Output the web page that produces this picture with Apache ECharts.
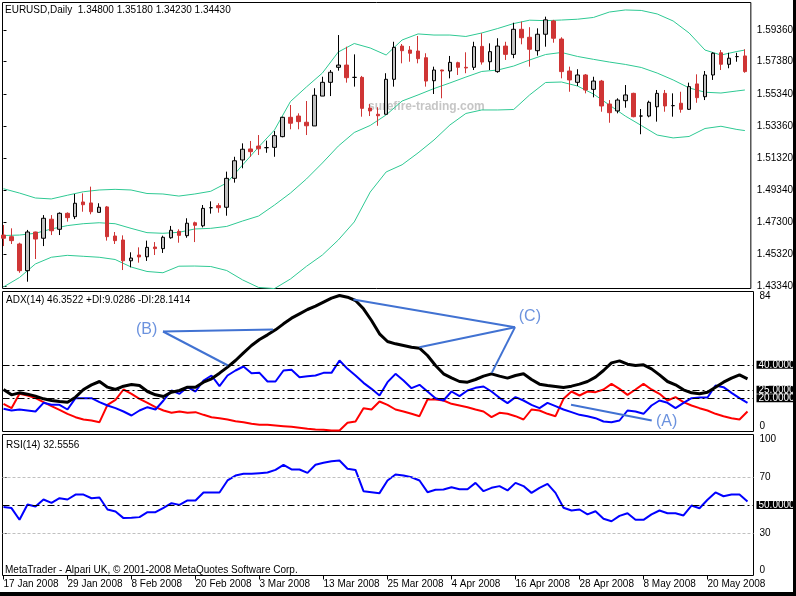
<!DOCTYPE html>
<html>
<head>
<meta charset="utf-8">
<script src="https://cdn.jsdelivr.net/npm/echarts@6/dist/echarts.min.js"></script>
<style>
  html, body { margin: 0; padding: 0; background: #fff; }
  #chart { width: 796px; height: 596px; }
</style>
</head>
<body>
<div id="chart"></div>
<script>
// 刻度文字
const dateLabels = ["17 Jan 2008", "29 Jan 2008", "8 Feb 2008", "20 Feb 2008", "3 Mar 2008", "13 Mar 2008",
  "25 Mar 2008", "4 Apr 2008", "16 Apr 2008", "28 Apr 2008", "8 May 2008", "20 May 2008"];
const dateIdx = [0, 8, 16, 24, 32, 40, 48, 56, 64, 72, 80, 88];
const priceTicks = [1.4334, 1.4532, 1.4730, 1.4934, 1.5132, 1.5336, 1.5534, 1.5738, 1.5936];
const adxTicks = [0, 84];
const rsiTicks = [0, 30, 70, 100];
const adxLevels = [40, 25, 20];

// K线 开高低收
const opens = [1.4653, 1.4643, 1.4597, 1.4430, 1.4672, 1.4633, 1.4752, 1.4689, 1.4789, 1.4768,
  1.4860, 1.4854, 1.4795, 1.4829, 1.4647, 1.4622, 1.4492, 1.4528, 1.4517, 1.4578,
  1.4568, 1.4636, 1.4676, 1.4649, 1.4730, 1.4711, 1.4824, 1.4837, 1.4827, 1.5008,
  1.5123, 1.5192, 1.5210, 1.5200, 1.5202, 1.5269, 1.5390, 1.5398, 1.5359, 1.5336,
  1.5523, 1.5609, 1.5703, 1.5717, 1.5640, 1.5640, 1.5448, 1.5409, 1.5409, 1.5628,
  1.5836, 1.5811, 1.5805, 1.5763, 1.5619, 1.5686, 1.5680, 1.5732, 1.5703, 1.5703,
  1.5834, 1.5738, 1.5676, 1.5836, 1.5784, 1.5941, 1.5891, 1.5807, 1.5910, 1.5993,
  1.5880, 1.5680, 1.5609, 1.5655, 1.5565, 1.5617, 1.5473, 1.5430, 1.5494, 1.5540,
  1.5398, 1.5398, 1.5456, 1.5540, 1.5463, 1.5478, 1.5440, 1.5599, 1.5519, 1.5655,
  1.5794, 1.5722, 1.5770, 1.5774];
const highs = [1.4716, 1.4695, 1.4605, 1.4685, 1.4674, 1.4778, 1.4778, 1.4795, 1.4795, 1.4910,
  1.4914, 1.4956, 1.4852, 1.4835, 1.4672, 1.4651, 1.4545, 1.4576, 1.4618, 1.4609,
  1.4649, 1.4710, 1.4689, 1.4758, 1.4737, 1.4841, 1.4864, 1.4852, 1.5050, 1.5143,
  1.5227, 1.5242, 1.5279, 1.5244, 1.5304, 1.5394, 1.5467, 1.5415, 1.5492, 1.5572,
  1.5644, 1.5686, 1.5905, 1.5832, 1.5784, 1.5649, 1.5473, 1.5453, 1.5666, 1.5863,
  1.5849, 1.5836, 1.5899, 1.5791, 1.5707, 1.5688, 1.5774, 1.5738, 1.5797, 1.5863,
  1.5916, 1.5853, 1.5885, 1.5863, 1.5982, 1.5989, 1.5954, 1.5947, 1.6020, 1.6000,
  1.5891, 1.5707, 1.5691, 1.5661, 1.5644, 1.5624, 1.5498, 1.5509, 1.5592, 1.5544,
  1.5442, 1.5494, 1.5561, 1.5561, 1.5540, 1.5550, 1.5607, 1.5659, 1.5680, 1.5797,
  1.5811, 1.5794, 1.5794, 1.5816];
const lows = [1.4584, 1.4597, 1.4417, 1.4361, 1.4503, 1.4584, 1.4653, 1.4653, 1.4737, 1.4753,
  1.4799, 1.4783, 1.4795, 1.4618, 1.4597, 1.4434, 1.4451, 1.4480, 1.4491, 1.4528,
  1.4541, 1.4630, 1.4605, 1.4636, 1.4609, 1.4701, 1.4787, 1.4793, 1.4774, 1.4981,
  1.5071, 1.5143, 1.5154, 1.5168, 1.5143, 1.5265, 1.5315, 1.5315, 1.5279, 1.5336,
  1.5523, 1.5523, 1.5682, 1.5607, 1.5582, 1.5394, 1.5398, 1.5337, 1.5409, 1.5582,
  1.5728, 1.5738, 1.5728, 1.5582, 1.5536, 1.5509, 1.5634, 1.5655, 1.5666, 1.5686,
  1.5720, 1.5686, 1.5669, 1.5749, 1.5760, 1.5847, 1.5707, 1.5776, 1.5832, 1.5857,
  1.5634, 1.5550, 1.5586, 1.5540, 1.5515, 1.5425, 1.5356, 1.5415, 1.5450, 1.5390,
  1.5284, 1.5390, 1.5363, 1.5425, 1.5394, 1.5419, 1.5436, 1.5481, 1.5498, 1.5624,
  1.5686, 1.5697, 1.5738, 1.5669];
const closes = [1.4633, 1.4618, 1.4430, 1.4672, 1.4628, 1.4758, 1.4680, 1.4789, 1.4762, 1.4852,
  1.4843, 1.4799, 1.4827, 1.4643, 1.4618, 1.4492, 1.4509, 1.4516, 1.4576, 1.4568,
  1.4639, 1.4683, 1.4651, 1.4727, 1.4714, 1.4820, 1.4824, 1.4824, 1.5008, 1.5118,
  1.5190, 1.5175, 1.5193, 1.5200, 1.5275, 1.5390, 1.5353, 1.5363, 1.5337, 1.5528,
  1.5609, 1.5672, 1.5717, 1.5638, 1.5640, 1.5446, 1.5430, 1.5400, 1.5628, 1.5828,
  1.5807, 1.5791, 1.5757, 1.5617, 1.5686, 1.5680, 1.5734, 1.5703, 1.5699, 1.5832,
  1.5736, 1.5801, 1.5836, 1.5784, 1.5941, 1.5888, 1.5816, 1.5910, 1.6000, 1.5885,
  1.5676, 1.5624, 1.5655, 1.5561, 1.5617, 1.5461, 1.5419, 1.5498, 1.5530, 1.5394,
  1.5398, 1.5484, 1.5540, 1.5461, 1.5463, 1.5440, 1.5582, 1.5513, 1.5655, 1.5791,
  1.5722, 1.5760, 1.5770, 1.5676];

// 布林带 (读图取点)
const bbIdx = [0, 2, 4, 6, 8, 10, 12, 14, 16, 18, 20, 22, 24, 26, 28, 30, 32, 34, 36, 38, 40, 42, 44, 46,
  48, 50, 52, 54, 56, 58, 60, 62, 64, 66, 68, 70, 72, 74, 76, 78, 80, 82, 84, 86, 88, 90, 92, 93];
const bbUpper = [1.4943, 1.4916, 1.4885, 1.4879, 1.4902, 1.4924, 1.4935, 1.4939, 1.4935, 1.4913, 1.4910, 1.4897,
  1.4910, 1.4927, 1.4979, 1.5092, 1.5204, 1.5311, 1.5489, 1.5580, 1.5667, 1.5799, 1.5852, 1.5824,
  1.5780, 1.5874, 1.5912, 1.5905, 1.5905, 1.5896, 1.5918, 1.5946, 1.5977, 1.5998, 1.5995, 1.5999,
  1.6004, 1.6015, 1.6049, 1.6062, 1.6059, 1.6037, 1.5993, 1.5918, 1.5811, 1.5780, 1.5802, 1.5811];
const bbMiddle = [1.4650, 1.4653, 1.4664, 1.4691, 1.4712, 1.4724, 1.4730, 1.4724, 1.4695, 1.4668, 1.4664, 1.4670,
  1.4691, 1.4695, 1.4707, 1.4741, 1.4772, 1.4841, 1.4916, 1.5004, 1.5104, 1.5210, 1.5295, 1.5339,
  1.5405, 1.5492, 1.5530, 1.5570, 1.5605, 1.5642, 1.5677, 1.5686, 1.5711, 1.5749, 1.5783, 1.5796,
  1.5771, 1.5753, 1.5736, 1.5721, 1.5702, 1.5667, 1.5624, 1.5574, 1.5547, 1.5542, 1.5555, 1.5561];
const bbLower = [1.4328, 1.4387, 1.4472, 1.4514, 1.4526, 1.4520, 1.4514, 1.4500, 1.4453, 1.4425, 1.4417, 1.4458,
  1.4459, 1.4456, 1.4431, 1.4372, 1.4325, 1.4318, 1.4378, 1.4457, 1.4528, 1.4622, 1.4735, 1.4922,
  1.5048, 1.5093, 1.5167, 1.5248, 1.5342, 1.5414, 1.5436, 1.5436, 1.5439, 1.5530, 1.5608, 1.5611,
  1.5586, 1.5536, 1.5467, 1.5398, 1.5339, 1.5279, 1.5261, 1.5270, 1.5320, 1.5334, 1.5314, 1.5307];

// ADX(14)
const adx = [25.2, 22.0, 23.2, 22.4, 21.2, 19.6, 18.6, 18.0, 17.6, 20.6,
  25.2, 28.0, 30.0, 26.6, 25.2, 27.2, 28.2, 27.6, 24.0, 22.0,
  21.0, 23.6, 24.6, 26.6, 26.6, 29.6, 31.6, 35.0, 38.6, 42.6,
  47.2, 51.6, 55.2, 58.0, 61.0, 64.6, 68.0, 70.6, 73.2, 75.2,
  77.6, 80.0, 81.6, 80.6, 78.6, 73.6, 66.6, 58.6, 54.0, 52.6,
  51.6, 50.6, 50.0, 45.6, 39.6, 34.6, 32.2, 30.0, 29.6, 31.2,
  33.2, 34.6, 33.2, 32.0, 33.6, 34.6, 31.2, 28.4, 27.6, 27.0,
  26.4, 27.2, 28.4, 30.0, 32.6, 36.6, 41.2, 42.4, 40.4, 39.6,
  40.0, 37.6, 34.0, 30.0, 28.0, 25.0, 23.2, 22.6, 23.6, 26.6,
  29.6, 32.0, 34.0, 31.6];
const plusDI = [13.6, 12.6, 13.2, 12.6, 12.0, 17.2, 16.0, 16.0, 13.2, 20.0,
  20.0, 20.0, 17.6, 15.6, 14.0, 12.0, 9.6, 12.6, 14.6, 13.2,
  18.6, 24.6, 22.6, 26.6, 24.0, 30.6, 33.6, 27.2, 33.6, 36.6,
  39.0, 35.0, 35.2, 30.0, 30.0, 36.6, 37.0, 32.6, 33.2, 33.6,
  35.2, 35.2, 42.6, 37.6, 33.6, 29.2, 25.6, 21.6, 29.6, 34.6,
  30.6, 26.0, 28.0, 24.0, 20.0, 18.6, 24.0, 21.2, 24.6, 26.2,
  27.0, 24.0, 20.2, 17.0, 20.6, 18.6, 16.0, 14.0, 17.2, 15.2,
  13.2, 11.6, 10.0, 9.2, 8.0, 6.0, 5.6, 6.6, 12.6, 12.0,
  10.6, 15.6, 18.6, 17.2, 14.0, 17.2, 20.0, 20.4, 20.4, 27.6,
  26.6, 23.2, 20.0, 17.2];
const minusDI = [16.6, 14.0, 22.6, 21.6, 20.0, 17.6, 15.2, 13.0, 10.6, 8.6,
  7.2, 6.6, 5.6, 16.0, 19.0, 25.2, 22.6, 19.6, 17.2, 14.6,
  12.6, 11.2, 12.0, 11.2, 11.6, 10.0, 8.6, 8.0, 7.2, 6.2,
  5.6, 4.6, 4.0, 4.0, 3.6, 3.2, 2.8, 2.2, 1.6, 1.2,
  1.0, 0.6, 0.6, 5.2, 6.0, 14.0, 13.2, 18.0, 16.0, 13.2,
  12.0, 10.6, 9.2, 19.2, 19.2, 18.6, 16.6, 15.6, 14.6, 13.2,
  12.0, 8.6, 11.2, 10.6, 9.2, 7.2, 13.2, 12.6, 10.6, 9.2,
  19.6, 24.0, 21.6, 24.0, 23.6, 25.2, 28.6, 25.6, 22.0, 25.2,
  28.6, 25.2, 22.6, 18.6, 20.6, 17.6, 15.6, 14.0, 12.6, 10.6,
  9.2, 8.0, 7.2, 12.0];

// RSI(14)
const rsi = [48.5, 47.8, 39.5, 50.4, 48.9, 53.9, 51.5, 54.8, 53.9, 57.4,
  57.4, 54.8, 55.3, 46.8, 45.4, 40.7, 40.9, 41.4, 44.9, 44.9,
  48.0, 51.3, 50.1, 53.2, 53.2, 58.9, 58.9, 58.9, 67.4, 70.9,
  72.1, 72.1, 72.6, 73.0, 74.9, 78.5, 75.2, 75.2, 72.8, 78.5,
  79.9, 81.1, 81.6, 75.7, 74.9, 59.8, 59.1, 58.4, 67.4, 71.6,
  70.9, 69.7, 67.4, 59.1, 60.8, 61.0, 62.6, 61.2, 61.2, 65.7,
  59.8, 62.2, 63.4, 60.3, 65.7, 63.4, 58.6, 62.2, 65.0, 58.6,
  48.0, 46.1, 46.8, 43.3, 45.6, 40.2, 38.5, 42.3, 44.2, 39.5,
  39.5, 43.3, 46.1, 44.2, 44.2, 42.6, 49.6, 47.7, 53.7, 58.9,
  56.2, 57.4, 57.4, 52.5];

// 标注线 (K线序号, ADX数值)
const annoLines = [
  [[19.94, 60.0], [33.69, 61.2]],
  [[19.94, 60.0], [28.06, 39.6]],
  [[43.73, 79.2], [63.94, 62.6]],
  [[63.94, 62.6], [51.98, 50.6]],
  [[63.94, 62.6], [61.03, 35.2]],
  [[70.94, 16.0], [81.03, 6.6]],
];
const annoTexts = ["(B)", "(C)", "(A)"];
const annoPos = [[17.88, 60.9], [65.8, 68.7], [82.9, 5.7]];

const FONT = "Liberation Sans";
const xMin = -0.125;
const xMax = 93.75;

function renderChart() {
  // 1. 实例化echart对象
  const myChart = echarts.init(document.querySelector("#chart"));
  const idx = opens.map((o, i) => i);
  const pts = (xs, ys) => xs.map((x, k) => [x, ys[k]]);
  const levelLine = { color: "#000", type: [7, 3, 2, 3], width: 1 };
  const boxLabel = {
    position: "end",
    distance: 3,
    formatter: (p) => p.value.toFixed(5),
    backgroundColor: "#000",
    color: "#fff",
    fontFamily: FONT,
    fontSize: 10,
    lineHeight: 8,
    padding: [0, 2, 0, 2],
  };
  const hiddenX = (g) => ({ type: "value", gridIndex: g, min: xMin, max: xMax, show: false });
  const rightY = (g, min, max, ticks, fmt, extra) => ({
    type: "value",
    gridIndex: g,
    position: "right",
    min: min,
    max: max,
    splitLine: { show: false },
    axisLine: { show: false },
    axisTick: { show: true, customValues: ticks, length: 3, lineStyle: { color: "#000" } },
    axisLabel: Object.assign(
      { customValues: ticks, formatter: fmt, color: "#000", fontFamily: FONT, fontSize: 10, margin: 6 },
      extra || {}
    ),
  });
  const bandLine = (vals) => ({
    type: "line",
    xAxisIndex: 0,
    yAxisIndex: 0,
    data: pts(bbIdx, vals),
    showSymbol: false,
    lineStyle: { color: "#2ec993", width: 1 },
    z: 1,
  });

  // 2. 调整配置
  const option = {
    animation: false,
    grid: [
      { left: 2.5, top: 2.5, width: 751, height: 286, show: true, borderColor: "#000", borderWidth: 1 },
      { left: 2.5, top: 291.5, width: 751, height: 140, show: true, borderColor: "#000", borderWidth: 1 },
      { left: 2.5, top: 434.5, width: 751, height: 141, show: true, borderColor: "#000", borderWidth: 1 },
    ],
    xAxis: [
      hiddenX(0),
      hiddenX(1),
      {
        type: "value",
        gridIndex: 2,
        min: xMin,
        max: xMax,
        splitLine: { show: false },
        axisLine: { show: false },
        axisTick: { show: true, customValues: dateIdx, length: 4, lineStyle: { color: "#000" } },
        axisLabel: {
          customValues: dateIdx,
          formatter: (v) => dateLabels[dateIdx.indexOf(Math.round(v))],
          align: "left",
          color: "#000",
          fontFamily: FONT,
          fontSize: 10,
          margin: 4,
        },
      },
    ],
    yAxis: [
      rightY(0, 1.43184, 1.61087, priceTicks, (v) => v.toFixed(5)),
      rightY(1, 0, 84, adxTicks, (v) => String(v), { verticalAlignMinLabel: "bottom", verticalAlignMaxLabel: "top" }),
      rightY(2, 0, 100, rsiTicks, (v) => String(v), { verticalAlignMinLabel: "bottom", verticalAlignMaxLabel: "top" }),
    ],
    series: [
      bandLine(bbUpper),
      bandLine(bbMiddle),
      bandLine(bbLower),
      {
        type: "candlestick",
        xAxisIndex: 0,
        yAxisIndex: 0,
        data: idx.map((i) => [i, opens[i], closes[i], lows[i], highs[i]]),
        barWidth: 4,
        itemStyle: {
          color: "#c0c0c0",
          color0: "#cf3535",
          borderColor: "#000",
          borderColor0: "#cf3535",
          borderColorDoji: "#000",
          borderWidth: 1,
        },
        z: 3,
      },
      {
        name: "-DI",
        type: "line",
        xAxisIndex: 1,
        yAxisIndex: 1,
        data: pts(idx, minusDI),
        showSymbol: false,
        lineStyle: { color: "#ff0000", width: 2 },
        markLine: {
          silent: true,
          symbol: "none",
          lineStyle: levelLine,
          label: boxLabel,
          data: adxLevels.map((v) => ({ yAxis: v })),
        },
      },
      {
        name: "+DI",
        type: "line",
        xAxisIndex: 1,
        yAxisIndex: 1,
        data: pts(idx, plusDI),
        showSymbol: false,
        lineStyle: { color: "#0000ff", width: 2 },
      },
      {
        name: "ADX",
        type: "line",
        xAxisIndex: 1,
        yAxisIndex: 1,
        data: pts(idx, adx),
        showSymbol: false,
        lineStyle: { color: "#000", width: 3 },
      },
      ...annoLines.map((seg) => ({
        type: "line",
        xAxisIndex: 1,
        yAxisIndex: 1,
        data: seg,
        showSymbol: false,
        lineStyle: { color: "#4172d2", width: 2 },
        z: 4,
      })),
      {
        type: "scatter",
        xAxisIndex: 1,
        yAxisIndex: 1,
        symbolSize: 1,
        itemStyle: { color: "rgba(0,0,0,0)" },
        data: annoPos.map((p, k) => ({ value: p, name: annoTexts[k] })),
        label: {
          show: true,
          position: "inside",
          formatter: (p) => p.name,
          color: "#4677d6",
          fontFamily: FONT,
          fontSize: 16,
        },
        z: 5,
      },
      {
        name: "RSI",
        type: "line",
        xAxisIndex: 2,
        yAxisIndex: 2,
        data: pts(idx, rsi),
        showSymbol: false,
        lineStyle: { color: "#0000ff", width: 2 },
        markLine: {
          silent: true,
          symbol: "none",
          lineStyle: levelLine,
          label: boxLabel,
          data: [
            { yAxis: 70, lineStyle: { color: "#c0c0c0", type: [3, 2], width: 1 }, label: { show: false } },
            { yAxis: 30, lineStyle: { color: "#c0c0c0", type: [3, 2], width: 1 }, label: { show: false } },
            { yAxis: 50 },
          ],
        },
      },
    ],
    graphic: [
      { type: "text", left: 5, top: 5, style: { text: "EURUSD,Daily  1.34800 1.35180 1.34230 1.34430", font: `10px "${FONT}"`, fill: "#000" } },
      { type: "text", left: 6, top: 295, style: { text: "ADX(14) 46.3522 +DI:9.0286 -DI:28.1414", font: `10px "${FONT}"`, fill: "#000" } },
      { type: "text", left: 6, top: 440, style: { text: "RSI(14) 32.5556", font: `10px "${FONT}"`, fill: "#000" } },
      { type: "text", left: 5, top: 565, style: { text: "MetaTrader - Alpari UK, © 2001-2008 MetaQuotes Software Corp.", font: `10px "${FONT}"`, fill: "#000" } },
      { type: "text", left: 368, top: 101, z: 1, style: { text: "surefire-trading.com", font: `bold 12px "${FONT}"`, fill: "#c6c6c6" } },
      { type: "rect", z: 100, shape: { x: 793, y: 0, width: 3, height: 596 }, style: { fill: "#000" } },
      { type: "rect", z: 100, shape: { x: 0, y: 592, width: 796, height: 4 }, style: { fill: "#000" } },
    ],
  };
  // 3. 调用setOption方法
  myChart.setOption(option);
}
renderChart();
</script>
</body>
</html>
